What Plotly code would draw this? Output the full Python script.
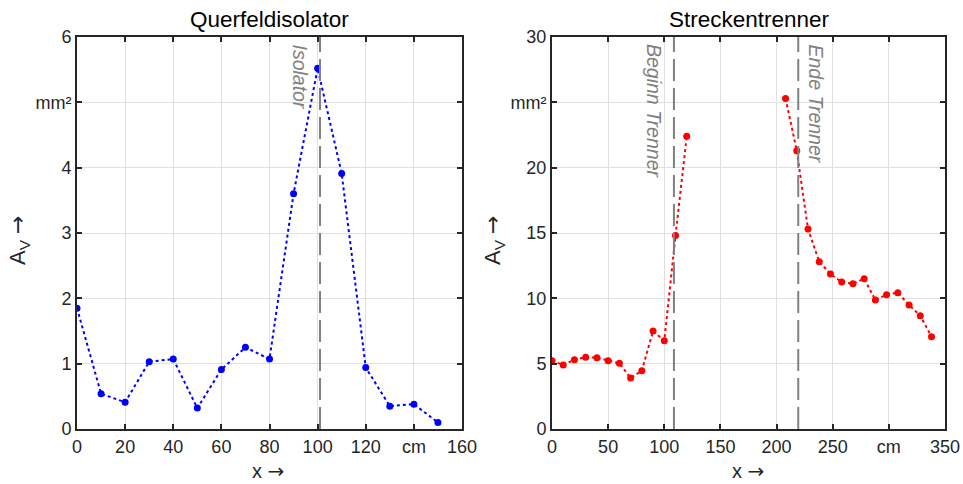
import plotly.graph_objects as go

# Querfeldisolator data
x_q = [0, 10, 20, 30, 40, 50, 60, 70, 80, 90, 100, 110, 120, 130, 140, 150]
a_q = [1.85, 0.54, 0.41, 1.03, 1.07, 0.32, 0.91, 1.25, 1.07, 3.6, 5.52, 3.91, 0.94, 0.35, 0.38, 0.10]
isolator_pos = 101

# Streckentrenner data (two segments)
x_s1 = [0, 10, 20, 30, 40, 50, 60, 70, 80, 90, 100, 110, 120]
a_s1 = [5.23, 4.9, 5.3, 5.5, 5.46, 5.23, 5.03, 3.9, 4.46, 7.5, 6.76, 14.8, 22.4]
x_s2 = [208, 218, 228, 238, 248, 258, 268, 278, 288, 298, 308, 318, 328, 338]
a_s2 = [25.3, 21.3, 15.3, 12.8, 11.86, 11.25, 11.12, 11.5, 9.87, 10.28, 10.43, 9.49, 8.67, 7.06]
beginn_pos = 108.6
ende_pos = 219.3

# tick labels
xt_q = [0, 20, 40, 60, 80, 100, 120, 140, 160]
xt_q_txt = ["0", "20", "40", "60", "80", "100", "120", "cm", "160"]
yt_q = [0, 1, 2, 3, 4, 5, 6]
yt_q_txt = ["0", "1", "2", "3", "4", "mm²", "6"]
xt_s = [0, 50, 100, 150, 200, 250, 300, 350]
xt_s_txt = ["0", "50", "100", "150", "200", "250", "cm", "350"]
yt_s = [0, 5, 10, 15, 20, 25, 30]
yt_s_txt = ["0", "5", "10", "15", "20", "mm²", "30"]

OFF = 0
W, H = 963, 484
FONT = "Liberation Sans, Arial, sans-serif"
AX = "#262626"
GRID = "#e0e0e0"

fig = go.Figure()

fig.add_trace(go.Scatter(x=x_q, y=a_q, mode="lines+markers", xaxis="x", yaxis="y",
                         line=dict(color="#0000ff", dash="dot", width=2),
                         marker=dict(color="#0000ff", size=7), showlegend=False))
fig.add_trace(go.Scatter(x=x_s1, y=a_s1, mode="lines+markers", xaxis="x2", yaxis="y2",
                         line=dict(color="#ff0000", dash="dot", width=2),
                         marker=dict(color="#ff0000", size=7), showlegend=False))
fig.add_trace(go.Scatter(x=x_s2, y=a_s2, mode="lines+markers", xaxis="x2", yaxis="y2",
                         line=dict(color="#ff0000", dash="dot", width=2),
                         marker=dict(color="#ff0000", size=7), showlegend=False))

def px_x(p):
    return (p - OFF) / W

def px_y(p):
    return 1 - (p - OFF) / H

common = dict(showgrid=True, gridcolor=GRID, gridwidth=1, zeroline=False,
              showline=True, linecolor=AX, linewidth=2, mirror="ticks",
              ticks="inside", ticklen=5, tickwidth=1.5, tickcolor=AX, automargin=False,
              tickfont=dict(family=FONT, size=18, color=AX), tickmode="array")

dash_style = dict(color="#808080", width=2, dash="22px,7px")

shapes = [
    dict(type="line", xref="x", yref="paper", x0=isolator_pos, x1=isolator_pos,
         y0=px_y(429), y1=px_y(37), line=dash_style, layer="above"),
    dict(type="line", xref="x2", yref="paper", x0=beginn_pos, x1=beginn_pos,
         y0=px_y(429), y1=px_y(37), line=dash_style, layer="above"),
    dict(type="line", xref="x2", yref="paper", x0=ende_pos, x1=ende_pos,
         y0=px_y(429), y1=px_y(37), line=dash_style, layer="above"),
]

ARROW = '<span style="font-family:DejaVu Sans">→</span>'

def note(text, x, y, size=18, color=AX, angle=0, yanchor="middle"):
    return dict(text=text, x=px_x(x), y=px_y(y), xref="paper", yref="paper",
                xanchor="center", yanchor=yanchor, showarrow=False, textangle=angle,
                font=dict(family=FONT, size=size, color=color))

ann = [
    note("Querfeldisolator", 269, 19, 22.5, "#000000"),
    note("Streckentrenner", 749, 19, 22.5, "#000000"),
    note("x " + ARROW, 268, 471, 20),
    note("x " + ARROW, 748, 471, 20),
    note("A<sub>V</sub> " + ARROW, 19, 240, 22, angle=-90),
    note("A<sub>V</sub> " + ARROW, 494, 240, 22, angle=-90),
    note("<i>Isolator</i>", 300, 42, 19.5, "#808080", angle=90, yanchor="top"),
    note("<i>Beginn Trenner</i>", 654, 42, 19.5, "#808080", angle=90, yanchor="top"),
    note("<i>Ende Trenner</i>", 816, 42, 19.5, "#808080", angle=90, yanchor="top"),
]

fig.update_layout(
    width=W, height=H,
    margin=dict(l=0, r=0, t=0, b=0),
    paper_bgcolor="white", plot_bgcolor="white",
    xaxis=dict(domain=[px_x(77), px_x(462)], range=[0, 160], tickvals=xt_q, ticktext=xt_q_txt,
               anchor="y", **common),
    yaxis=dict(domain=[px_y(429), px_y(37)], range=[0, 6], tickvals=yt_q, ticktext=yt_q_txt,
               anchor="x", **common),
    xaxis2=dict(domain=[px_x(552), px_x(945)], range=[0, 350], tickvals=xt_s, ticktext=xt_s_txt,
                anchor="y2", **common),
    yaxis2=dict(domain=[px_y(429), px_y(37)], range=[0, 30], tickvals=yt_s, ticktext=yt_s_txt,
                anchor="x2", **common),
    shapes=shapes,
    annotations=ann,
)

fig.write_html("out.html", config={"displayModeBar": False},
               post_script="document.body.style.margin='0';document.body.style.overflow='hidden';")
